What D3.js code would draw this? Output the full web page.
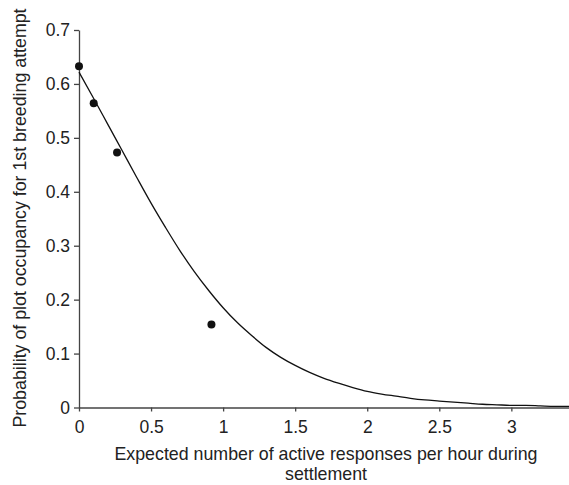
<!DOCTYPE html>
<html>
<head>
    <meta charset="utf-8">
    <style>
        body {
            margin: 0;
            background-color: white;
        }
        text {
            font-family: "Liberation Sans", Arial, sans-serif;
            fill: #222;
        }
    </style>
</head>
<body>
<div class="board"></div>
<script src="https://cdnjs.cloudflare.com/ajax/libs/d3/7.8.5/d3.min.js"></script>
<script>
    // observed points
    var obsX = [0, 0.102, 0.264, 0.919]
    var obsY = [0.633, 0.564, 0.473, 0.154]

    // fitted curve, every 0.1
    var curveX = [0, 0.1, 0.2, 0.3, 0.4, 0.5, 0.6, 0.7, 0.8, 0.9, 1.0, 1.1, 1.2, 1.3, 1.4, 1.5, 1.6,
        1.7, 1.8, 1.9, 2.0, 2.1, 2.2, 2.3, 2.4, 2.5, 2.6, 2.7, 2.8, 2.9, 3.0, 3.1, 3.2, 3.3, 3.4]
    var curveY = [0.622, 0.574, 0.525, 0.476, 0.427, 0.379, 0.334, 0.291, 0.252, 0.217, 0.185, 0.157,
        0.133, 0.111, 0.093, 0.078, 0.065, 0.054, 0.045, 0.037, 0.030, 0.025, 0.021, 0.017, 0.014,
        0.012, 0.010, 0.008, 0.006, 0.005, 0.004, 0.004, 0.003, 0.002, 0.002]

    var xTicks = [0, 0.5, 1, 1.5, 2, 2.5, 3]
    var yTicks = [0, 0.1, 0.2, 0.3, 0.4, 0.5, 0.6, 0.7]

    var xLabel = "Expected number of active responses per hour during"
    var xLabel2 = "settlement"
    var yLabel = "Probability of plot occupancy for 1st breeding attempt"

    var width = 569, height = 485
    var margin = { top: 30, right: 0, bottom: 78, left: 79 }

    var svg = d3.select(".board")
        .append("svg")
        .attr("width", width)
        .attr("height", height)

    var x = d3.scaleLinear()
        .domain([0, 3.4])
        .range([margin.left, width - margin.right])

    var y = d3.scaleLinear()
        .domain([0, 0.7])
        .range([height - margin.bottom + 0.5, margin.top])

    svg.append("g")
        .attr("transform", "translate(0," + y(0) + ")")
        .call(d3.axisBottom(x).tickValues(xTicks).tickFormat(d3.format("")).tickSize(4).tickPadding(9).tickSizeOuter(0))

    svg.append("g")
        .attr("transform", "translate(" + x(0) + ",0)")
        .call(d3.axisLeft(y).tickValues(yTicks).tickFormat(d3.format("")).tickSize(5).tickPadding(4).tickSizeOuter(0))

    svg.selectAll(".domain, .tick line")
        .attr("stroke", "#444")
        .attr("stroke-width", 1.3)

    svg.selectAll(".tick text")
        .style("font-size", "17.5px")
        .attr("fill", "#222")

    var line = d3.line()
        .x((d, i) => x(curveX[i]))
        .y(d => y(d))
        .curve(d3.curveMonotoneX)

    svg.append("path")
        .datum(curveY)
        .attr("fill", "none")
        .attr("stroke", "#111")
        .attr("stroke-width", 1.3)
        .attr("d", line)

    svg.selectAll(".obs")
        .data(obsY)
        .enter()
        .append("circle")
        .classed("obs", true)
        .attr("cx", (d, i) => x(obsX[i]))
        .attr("cy", d => y(d))
        .attr("r", 4)
        .attr("fill", "#111")

    svg.append("text")
        .attr("x", (x(0) + x(3.4)) / 2 + 2)
        .attr("y", 460)
        .attr("text-anchor", "middle")
        .style("font-size", "17.8px")
        .text(xLabel)

    svg.append("text")
        .attr("x", (x(0) + x(3.4)) / 2 + 2)
        .attr("y", 480)
        .attr("text-anchor", "middle")
        .style("font-size", "17.8px")
        .text(xLabel2)

    svg.append("text")
        .attr("transform", "translate(26," + 218 + ") rotate(-90)")
        .attr("text-anchor", "middle")
        .style("font-size", "17.8px")
        .text(yLabel)
</script>
</body>
</html>
